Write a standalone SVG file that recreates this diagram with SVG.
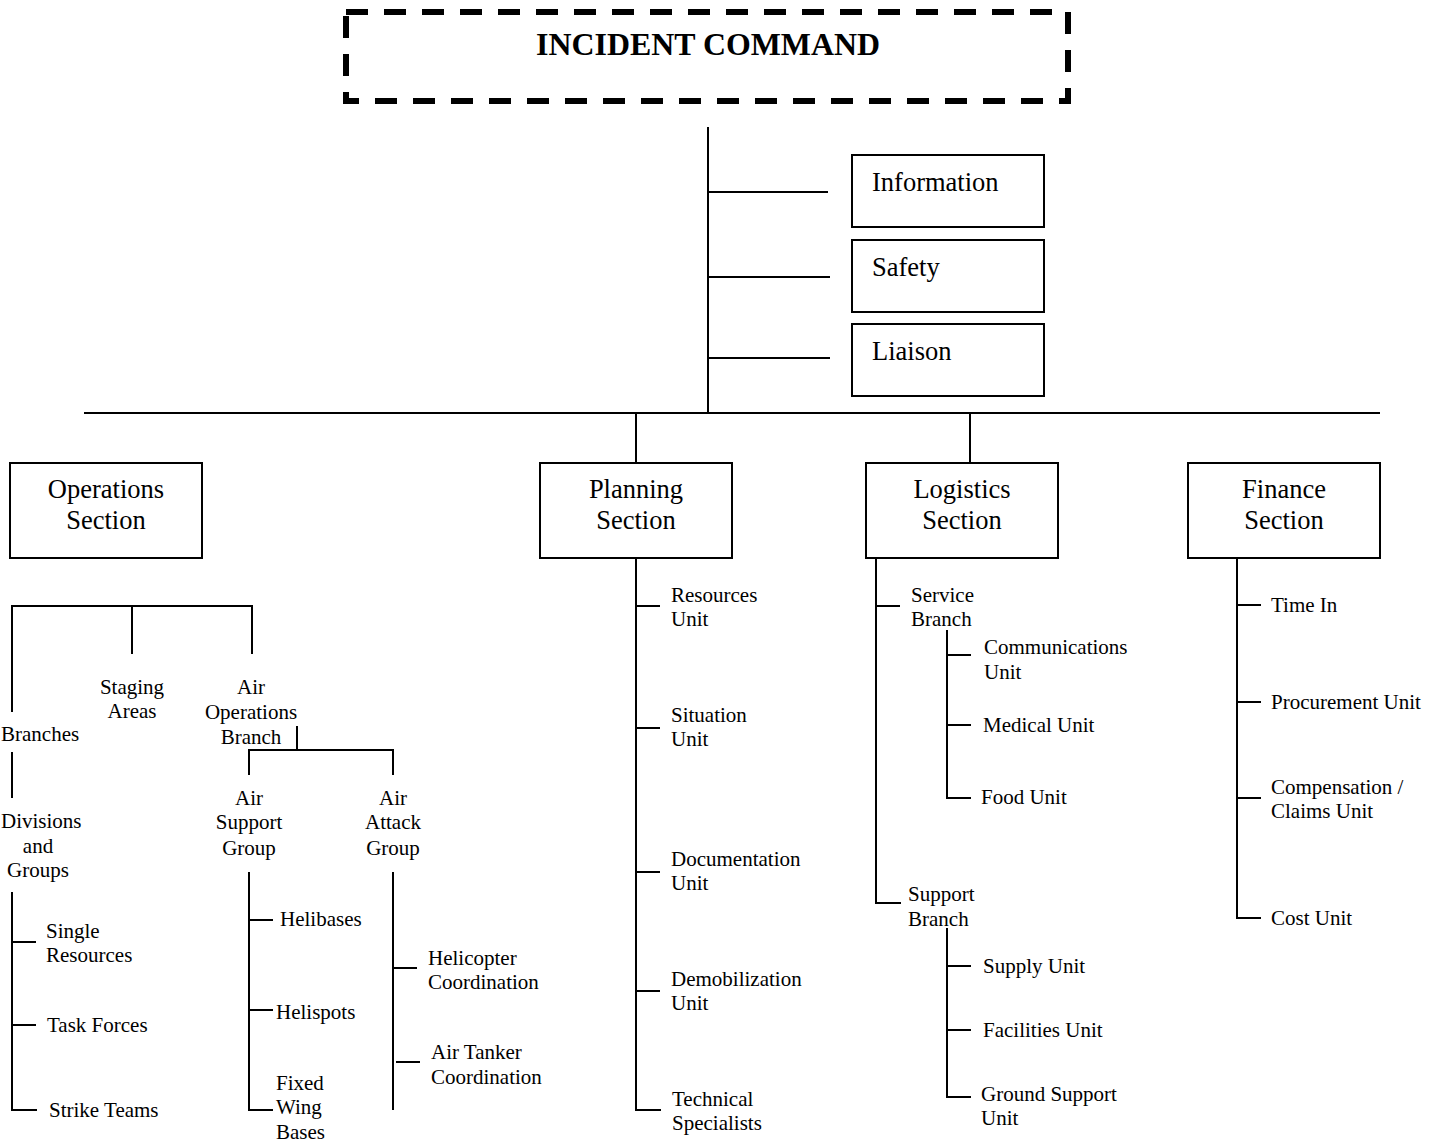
<svg xmlns="http://www.w3.org/2000/svg" width="1440" height="1142" viewBox="0 0 1440 1142">
<style>
text{font-family:"Liberation Serif","Times New Roman",serif;fill:#000}
.t{font-size:21px}
.s{font-size:26.5px}
.m{text-anchor:middle}
.box{fill:#fff;stroke:#000;stroke-width:2}
.ln line{stroke:#000;stroke-width:2}
</style>
<rect width="1440" height="1142" fill="#fff"/>
<g id="connectors" class="ln">
<line x1="708" y1="127" x2="708" y2="414"/>
<line x1="708" y1="192" x2="828" y2="192"/>
<line x1="708" y1="277" x2="830" y2="277"/>
<line x1="708" y1="358" x2="830" y2="358"/>
<line x1="84" y1="413" x2="1380" y2="413"/>
<line x1="636" y1="413" x2="636" y2="462"/>
<line x1="970" y1="413" x2="970" y2="462"/>
<line x1="11" y1="606" x2="253" y2="606"/>
<line x1="12" y1="606" x2="12" y2="712"/>
<line x1="132" y1="606" x2="132" y2="654"/>
<line x1="252" y1="606" x2="252" y2="654"/>
<line x1="12" y1="752" x2="12" y2="798"/>
<line x1="12" y1="892" x2="12" y2="1111"/>
<line x1="11" y1="942" x2="36" y2="942"/>
<line x1="11" y1="1025" x2="36" y2="1025"/>
<line x1="11" y1="1110" x2="37" y2="1110"/>
<line x1="297" y1="726" x2="297" y2="751"/>
<line x1="248" y1="750" x2="394" y2="750"/>
<line x1="249" y1="750" x2="249" y2="775"/>
<line x1="393" y1="750" x2="393" y2="775"/>
<line x1="249" y1="872" x2="249" y2="1111"/>
<line x1="249" y1="920" x2="273" y2="920"/>
<line x1="249" y1="1010" x2="273" y2="1010"/>
<line x1="248" y1="1110" x2="273" y2="1110"/>
<line x1="393" y1="872" x2="393" y2="1110"/>
<line x1="393" y1="968" x2="417" y2="968"/>
<line x1="396" y1="1062" x2="420" y2="1062"/>
<line x1="636" y1="558" x2="636" y2="1111"/>
<line x1="636" y1="606" x2="660" y2="606"/>
<line x1="636" y1="728" x2="660" y2="728"/>
<line x1="636" y1="872" x2="660" y2="872"/>
<line x1="636" y1="991" x2="660" y2="991"/>
<line x1="635" y1="1110" x2="661" y2="1110"/>
<line x1="876" y1="558" x2="876" y2="904"/>
<line x1="876" y1="606" x2="900" y2="606"/>
<line x1="875" y1="903" x2="901" y2="903"/>
<line x1="947" y1="630" x2="947" y2="799"/>
<line x1="947" y1="655" x2="971" y2="655"/>
<line x1="947" y1="725" x2="971" y2="725"/>
<line x1="946" y1="798" x2="971" y2="798"/>
<line x1="947" y1="928" x2="947" y2="1098"/>
<line x1="947" y1="966" x2="971" y2="966"/>
<line x1="947" y1="1030" x2="971" y2="1030"/>
<line x1="946" y1="1097" x2="971" y2="1097"/>
<line x1="1237" y1="558" x2="1237" y2="919"/>
<line x1="1237" y1="605" x2="1261" y2="605"/>
<line x1="1237" y1="702" x2="1261" y2="702"/>
<line x1="1237" y1="798" x2="1261" y2="798"/>
<line x1="1236" y1="918" x2="1261" y2="918"/>
</g>
<g id="incident-command">
<rect x="346" y="12" width="722" height="89" fill="none" stroke="#000" stroke-width="6" stroke-dasharray="22 16"/>
<text x="708" y="55" class="m" font-size="32" font-weight="bold" textLength="344" lengthAdjust="spacingAndGlyphs">INCIDENT COMMAND</text>
</g>
<g id="information"><rect class="box" x="852" y="155" width="192" height="72"/><text class="s" x="872" y="191">Information</text></g>
<g id="safety"><rect class="box" x="852" y="240" width="192" height="72"/><text class="s" x="872" y="276">Safety</text></g>
<g id="liaison"><rect class="box" x="852" y="324" width="192" height="72"/><text class="s" x="872" y="360">Liaison</text></g>
<g id="operations"><rect class="box" x="10" y="463" width="192" height="95"/><text class="s m" x="106" y="498">Operations</text><text class="s m" x="106" y="529">Section</text></g>
<g id="planning"><rect class="box" x="540" y="463" width="192" height="95"/><text class="s m" x="636" y="498">Planning</text><text class="s m" x="636" y="529">Section</text></g>
<g id="logistics"><rect class="box" x="866" y="463" width="192" height="95"/><text class="s m" x="962" y="498">Logistics</text><text class="s m" x="962" y="529">Section</text></g>
<g id="finance"><rect class="box" x="1188" y="463" width="192" height="95"/><text class="s m" x="1284" y="498">Finance</text><text class="s m" x="1284" y="529">Section</text></g>
<g id="branches"><text class="t" x="1" y="741">Branches</text></g>
<g id="staging"><text class="t m" x="132" y="694">Staging</text><text class="t m" x="132" y="718">Areas</text></g>
<g id="air-ops"><text class="t m" x="251" y="694">Air</text><text class="t m" x="251" y="719">Operations</text><text class="t m" x="251" y="744">Branch</text></g>
<g id="divisions"><text class="t" x="1" y="828">Divisions</text><text class="t m" x="38" y="853">and</text><text class="t m" x="38" y="877">Groups</text></g>
<g id="single"><text class="t" x="46" y="938">Single</text><text class="t" x="46" y="962">Resources</text></g>
<g id="task"><text class="t" x="47" y="1032">Task Forces</text></g>
<g id="strike"><text class="t" x="49" y="1117">Strike Teams</text></g>
<g id="air-support"><text class="t m" x="249" y="805">Air</text><text class="t m" x="249" y="829">Support</text><text class="t m" x="249" y="855">Group</text></g>
<g id="air-attack"><text class="t m" x="393" y="805">Air</text><text class="t m" x="393" y="829">Attack</text><text class="t m" x="393" y="855">Group</text></g>
<g id="helibases"><text class="t" x="280" y="926">Helibases</text></g>
<g id="helispots"><text class="t" x="276" y="1019">Helispots</text></g>
<g id="fixed-wing"><text class="t" x="276" y="1090">Fixed</text><text class="t" x="276" y="1114">Wing</text><text class="t" x="276" y="1139">Bases</text></g>
<g id="heli-coord"><text class="t" x="428" y="965">Helicopter</text><text class="t" x="428" y="989">Coordination</text></g>
<g id="tanker-coord"><text class="t" x="431" y="1059">Air Tanker</text><text class="t" x="431" y="1084">Coordination</text></g>
<g id="resources"><text class="t" x="671" y="602">Resources</text><text class="t" x="671" y="626">Unit</text></g>
<g id="situation"><text class="t" x="671" y="722">Situation</text><text class="t" x="671" y="746">Unit</text></g>
<g id="documentation"><text class="t" x="671" y="866">Documentation</text><text class="t" x="671" y="890">Unit</text></g>
<g id="demob"><text class="t" x="671" y="986">Demobilization</text><text class="t" x="671" y="1010">Unit</text></g>
<g id="technical"><text class="t" x="672" y="1106">Technical</text><text class="t" x="672" y="1130">Specialists</text></g>
<g id="service"><text class="t" x="911" y="602">Service</text><text class="t" x="911" y="626">Branch</text></g>
<g id="comms"><text class="t" x="984" y="654">Communications</text><text class="t" x="984" y="679">Unit</text></g>
<g id="medical"><text class="t" x="983" y="732">Medical Unit</text></g>
<g id="food"><text class="t" x="981" y="804">Food Unit</text></g>
<g id="support"><text class="t" x="908" y="901">Support</text><text class="t" x="908" y="926">Branch</text></g>
<g id="supply"><text class="t" x="983" y="973">Supply Unit</text></g>
<g id="facilities"><text class="t" x="983" y="1037">Facilities Unit</text></g>
<g id="ground"><text class="t" x="981" y="1101">Ground Support</text><text class="t" x="981" y="1125">Unit</text></g>
<g id="time"><text class="t" x="1271" y="612">Time In</text></g>
<g id="procurement"><text class="t" x="1271" y="709">Procurement Unit</text></g>
<g id="compensation"><text class="t" x="1271" y="794">Compensation /</text><text class="t" x="1271" y="818">Claims Unit</text></g>
<g id="cost"><text class="t" x="1271" y="925">Cost Unit</text></g>
</svg>
